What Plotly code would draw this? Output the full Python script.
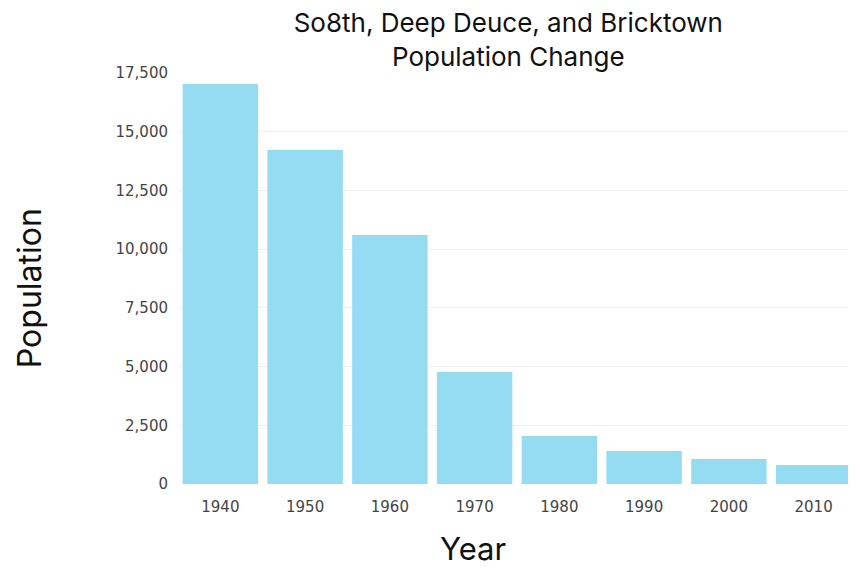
import plotly.graph_objects as go

# Data
years = ["1940", "1950", "1960", "1970", "1980", "1990", "2000", "2010"]
population = [17030, 14220, 10600, 4770, 2040, 1400, 1060, 810]
tick_vals = [0, 2500, 5000, 7500, 10000, 12500, 15000, 17500]
tick_text = ["0", "2,500", "5,000", "7,500", "10,000", "12,500", "15,000", "17,500"]

head_font = "Inter, Noto Sans, sans-serif"

fig = go.Figure(
    go.Bar(
        x=years,
        y=population,
        marker=dict(color="#95dcf3", line=dict(width=0)),
    )
)

# page has an 8px body margin, so the figure is a bit smaller than the window
fig.update_layout(
    width=848,
    height=559,
    paper_bgcolor="white",
    plot_bgcolor="white",
    bargap=0.11,
    margin=dict(l=170, r=0, t=65, b=83),
    title=dict(
        text="So8th, Deep Deuce, and Bricktown<br>Population Change",
        x=0.59,
        xanchor="center",
        yref="container",
        y=0.957,
        yanchor="middle",
        font=dict(family=head_font, size=26, color="#111111"),
    ),
    font=dict(family="DejaVu Sans", color="#333333"),
    showlegend=False,
    annotations=[
        dict(text="Year", xref="paper", yref="paper", x=0.435, y=-0.158,
             xanchor="center", yanchor="middle", showarrow=False,
             font=dict(family=head_font, size=31, color="#111111")),
        dict(text="Population", xref="paper", yref="paper", x=-0.218, y=0.477,
             xanchor="center", yanchor="middle", showarrow=False, textangle=-90,
             font=dict(family=head_font, size=32, color="#111111")),
    ],
)

fig.update_xaxes(
    tickfont=dict(size=15, color="#444444"),
    ticklabelstandoff=12,
    showline=False,
    ticks="",
    automargin=False,
)

fig.update_yaxes(
    range=[0, 17500],
    tickvals=tick_vals,
    ticktext=tick_text,
    tickfont=dict(size=15, color="#444444"),
    ticklabelstandoff=9,
    showgrid=True,
    gridcolor="#efefef",
    zeroline=False,
    ticks="",
    automargin=False,
)

fig.write_html("out.html")
